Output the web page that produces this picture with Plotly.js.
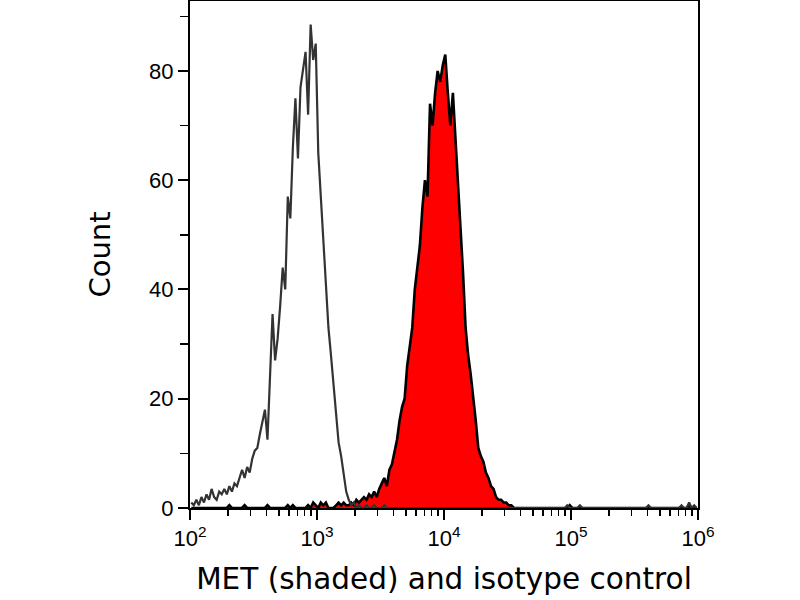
<!DOCTYPE html>
<html>
<head>
<meta charset="utf-8">
<script src="https://cdn.plot.ly/plotly-3.0.1.min.js"></script>
<style>
  html, body { margin: 0; padding: 0; background: #fff; }
  #chart { width: 800px; height: 600px; }
</style>
</head>
<body>
<div id="chart"></div>
<script>
// histogram channels: 50 bins per decade, from 10^2 to 10^6
var binsPerDecade = 50;
var firstDecade = 2;

// isotype control counts per bin (bins 0..199)
var isotype = [
  1, 0.5, 1.5, 0.5, 2, 1, 2.5, 1.5, 3.5, 2,
  1.5, 3, 2.5, 3.5, 2.5, 4, 3, 4.5, 4, 5.5,
  7, 5.5, 7.5, 6.5, 9, 10.5, 11, 13.5, 15.5, 18,
  12.5, 25.5, 35.5, 27, 31, 37, 44, 40, 57, 53,
  66, 75, 64, 77, 80.5, 83.5, 72, 88.5, 82, 85,
  65, 57.5, 50, 41, 33, 28, 22.5, 18, 12, 9.5,
  6, 3, 1.5, 0.5, 1, 0, 0.5, 0, 0, 0.5,
  0, 0, 0.5, 0, 0, 0, 0.5, 0, 0, 0,
  0, 0, 0, 0, 0, 0, 0, 0, 0, 0,
  0, 0, 0, 0, 0, 0, 0, 0, 0, 0,
  0, 0, 0, 0, 0, 0, 0, 0, 0, 0,
  0, 0, 0, 0, 0, 0, 0, 0, 0, 0,
  0, 0, 0, 0, 0, 0, 0, 0, 0, 0,
  0, 0, 0, 0, 0, 0, 0, 0, 0, 0,
  0, 0, 0, 0, 0, 0, 0, 0, 0.5, 0,
  0, 0, 0, 0.5, 0, 0, 0, 0, 0, 0,
  0, 0, 0, 0, 0, 0, 0, 0, 0, 0,
  0, 0, 0, 0, 0, 0, 0, 0, 0, 0,
  0.5, 0, 0, 0, 0, 0, 0, 0, 0, 0,
  0, 0, 0, 0.5, 0, 0, 1, 0, 0.5, 0
];

// MET stained counts per bin (bins 0..199)
var met = [
  0, 0, 0, 0, 0, 0, 0, 0, 0, 0,
  0, 0, 0, 0, 0, 0.5, 0, 0, 0, 0,
  0, 0.5, 0, 0, 0, 0, 0, 0, 0, 0,
  0.5, 0, 0, 0, 0, 0, 0, 0, 0.5, 0,
  0.5, 0, 0, 0, 0, 0, 0.5, 0, 1, 0.5,
  0, 1, 0.5, 1, 0, 0, 0, 0.5, 1, 0.5,
  1, 0.5, 0.5, 1, 0.5, 1.5, 1, 1.5, 2, 1.5,
  2.5, 2, 3, 2, 3.5, 4.5, 5.5, 4, 7, 8,
  10, 12.5, 16, 18.5, 20, 26, 29.5, 33, 40, 44,
  48, 55, 60, 57, 74, 70, 76, 80, 78, 81,
  83, 76, 70, 76, 68, 59, 51, 43, 33, 28,
  24.5, 20.5, 16, 11, 9.5, 8.5, 6.5, 5.5, 4, 3.5,
  2, 1.5, 1.5, 1, 1, 0.5, 0.5, 0, 0, 0,
  0, 0, 0, 0, 0, 0, 0, 0, 0, 0,
  0, 0, 0, 0, 0, 0, 0, 0, 0, 0.5,
  0, 0, 0, 0, 0, 0, 0, 0, 0, 0,
  0, 0, 0, 0, 0, 0, 0, 0, 0, 0,
  0, 0, 0, 0, 0, 0, 0, 0, 0, 0,
  0, 0, 0, 0, 0, 0, 0, 0, 0, 0,
  0, 0, 0, 0, 0, 0, 0.5, 0, 0, 0
];

var xTickVals = [100, 1000, 10000, 100000, 1000000];
var xTickText = ["10<sup>2</sup>", "10<sup>3</sup>", "10<sup>4</sup>", "10<sup>5</sup>", "10<sup>6</sup>"];
var yTickVals = [0, 20, 40, 60, 80];
var mantissas = [2, 3, 4, 5, 6, 7, 8, 9];

// bin centres on the log scale
var x = met.map((d, i) => Math.pow(10, firstDecade + (i + 0.5) / binsPerDecade));

var minorX = [];
xTickVals.slice(0, -1).forEach(d => mantissas.forEach(m => minorX.push(d * m)));

var traceMet = {
    x: x,
    y: met,
    name: "MET",
    type: "scatter",
    mode: "lines",
    fill: "tozeroy",
    fillcolor: "#ff0000",
    line: {color: "#000000", width: 2.6}
};

var traceIso = {
    x: x,
    y: isotype,
    name: "Isotype control",
    type: "scatter",
    mode: "lines",
    line: {color: "#333333", width: 2.2}
};

var data = [traceMet, traceIso];

var tickFont = {family: "Liberation Sans, Arial, sans-serif", size: 22, color: "#000000"};
var titleFont = {family: "DejaVu Sans, Verdana, sans-serif", size: 29, color: "#000000"};

var layout = {
    width: 800,
    height: 600,
    showlegend: false,
    paper_bgcolor: "#ffffff",
    plot_bgcolor: "#ffffff",
    margin: {l: 190, r: 102, t: 1, b: 92},
    xaxis: {
        type: "log",
        range: [2, 6],
        tickvals: xTickVals,
        ticktext: xTickText,
        showline: true,
        linecolor: "#000000",
        linewidth: 2,
        mirror: true,
        ticks: "outside",
        ticklen: 10,
        tickwidth: 2,
        tickcolor: "#000000",
        showgrid: false,
        zeroline: false,
        minor: {tickvals: minorX, ticks: "outside", ticklen: 6, tickwidth: 1.5, tickcolor: "#000000", showgrid: false},
        tickfont: tickFont,
        automargin: false,
        title: {
            text: "MET (shaded) and isotype control",
            font: {family: titleFont.family, size: 29.5, color: "#000000"},
            standoff: 18
        }
    },
    yaxis: {
        range: [0, 92.8],
        tickvals: yTickVals,
        showline: true,
        linecolor: "#000000",
        linewidth: 2,
        mirror: true,
        ticks: "outside",
        ticklen: 10,
        tickwidth: 2,
        tickcolor: "#000000",
        showgrid: false,
        zeroline: false,
        minor: {dtick: 10, ticks: "outside", ticklen: 8, tickwidth: 1.5, tickcolor: "#000000", showgrid: false},
        tickfont: tickFont,
        automargin: false,
        title: {
            text: "Count",
            font: titleFont,
            standoff: 30
        }
    }
};

Plotly.newPlot("chart", data, layout, {staticPlot: true});
</script>
</body>
</html>
